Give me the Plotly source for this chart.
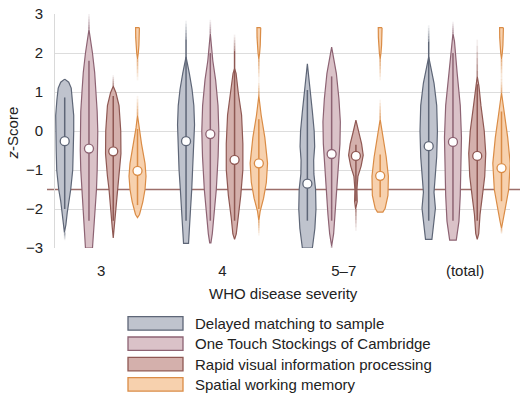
import plotly.graph_objects as go

# ---------------- data ----------------
categories = ["3", "4", "5–7", "(total)"]
series_names = [
    "Delayed matching to sample",
    "One Touch Stockings of Cambridge",
    "Rapid visual information processing",
    "Spatial working memory",
]

# violin profiles: z-score levels and estimated density half-widths, per category
dms_y = [
    [1.33, 1.25, 1.1, 0.8, 0.4, 0.0, -0.5, -1.0, -1.5, -1.8, -2.1, -2.4, -2.6],
    [1.9, 1.72, 1.48, 1.07, 0.65, 0.16, -0.33, -0.99, -1.5, -2.0, -2.47, -2.88],
    [1.72, 1.4, 1.0, 0.5, 0.0, -0.4, -0.75, -1.1, -1.5, -2.0, -2.5, -3.0],
    [1.9, 1.64, 1.23, 0.65, 0.0, -0.66, -1.32, -1.57, -1.98, -2.47, -2.78],
]
dms_w = [
    [0, 4, 6.5, 7.8, 9, 9, 8.5, 8, 6, 4, 2.5, 1.2, 0.3],
    [0, 1.5, 3.3, 6, 7.8, 8.5, 7.8, 7, 5.7, 4.5, 3.3, 2.5],
    [0, 1.5, 3, 5, 6.8, 7.3, 6.3, 6.5, 8.2, 8.6, 7.5, 5],
    [0, 2, 5.3, 8, 8.7, 8, 6, 5.3, 6.7, 4.7, 3.2],
]
ots_y = [
    [2.6, 2.3, 2.0, 1.5, 1.0, 0.5, 0.0, -0.5, -1.0, -1.5, -2.0, -2.5, -3.0],
    [2.5, 2.3, 1.8, 1.31, 0.65, 0.0, -0.66, -1.5, -2.14, -2.63, -2.87],
    [2.15, 1.48, 0.82, 0.24, -0.33, -0.99, -1.5, -2.14, -2.63, -2.95],
    [2.5, 2.3, 1.48, 0.65, -0.17, -0.99, -1.65, -2.31, -2.8],
]
ots_w = [
    [0, 1.8, 3.5, 5.7, 7, 8.2, 8.8, 8.7, 8.2, 7.5, 6.2, 4.8, 3.5],
    [0, 0.8, 2.5, 5.3, 7.7, 8.5, 7.8, 6, 4, 2, 0.6],
    [0, 4.7, 7.3, 8.7, 8.3, 6.7, 5.3, 3.7, 2, 0],
    [0, 1.5, 4.2, 7.3, 8.5, 8, 7.3, 6, 3.3],
]
rvip_y = [
    [1.15, 0.98, 0.65, 0.0, -0.58, -1.16, -1.5, -2.0, -2.47, -2.74],
    [1.6, 1.48, 0.98, 0.41, -0.33, -0.99, -1.65, -2.23, -2.64, -2.78],
    [0.28, 0.0, -0.33, -0.62, -0.9, -1.16, -1.5, -1.81, -2.0],
    [1.4, 1.15, 0.65, 0.0, -0.58, -1.16, -1.65, -2.14, -2.63, -2.78],
]
rvip_w = [
    [0, 2.7, 5.8, 7.5, 7.7, 5.8, 4.2, 2.3, 1, 0],
    [0, 1.5, 3.7, 7, 8.3, 8.3, 6.2, 3.3, 1.7, 0],
    [0, 2.5, 5.7, 7.3, 5.2, 2, 1, 1.3, 0.3],
    [0, 1.7, 3.7, 7, 8.5, 7.5, 5.2, 2.8, 1.5, 0],
]
swm_y = [
    [0.4, 0.08, -0.33, -0.83, -1.16, -1.5, -1.82, -2.14, -2.22],
    [0.9, 0.41, -0.17, -0.83, -1.32, -1.73, -2.06, -2.3],
    [0.3, 0.08, -0.17, -0.66, -1.16, -1.65, -1.98, -2.08],
    [0.98, 0.41, -0.17, -0.83, -1.5, -1.98, -2.31, -2.5],
]
swm_w = [
    [0, 1.5, 4, 7.5, 8.5, 7.5, 5.3, 2, 0],
    [0, 2.3, 6, 8.7, 7.5, 4.7, 1.3, 0],
    [0, 1.5, 2.7, 6, 8.2, 7.8, 5, 2.7],
    [0, 3, 6.2, 8.7, 7.2, 3.8, 1.5, 0],
]
# separate upper cluster of spatial working memory (ceiling scores)
swm_top_y = [2.65, 2.4, 2.2, 2.0, 1.85]
swm_top_w = [1.9, 1.8, 1.4, 0.8, 0]

dms_median = [-0.26, -0.26, -1.35, -0.39]
ots_median = [-0.45, -0.08, -0.59, -0.28]
rvip_median = [-0.52, -0.74, -0.64, -0.64]
swm_median = [-1.02, -0.83, -1.15, -0.95]

dms_inner = [(0.86, -2.0), (2.35, -2.3), (1.05, -2.3), (2.3, -2.3)]
ots_inner = [(1.8, -2.3), (2.0, -2.3), (1.4, -2.3), (2.0, -2.3)]
rvip_inner = [(0.9, -2.3), (2.05, -2.3), (-0.35, -1.8), (1.2, -2.3)]
swm_inner = [(0.05, -1.9), (0.3, -2.0), (-0.6, -1.7), (0.5, -1.8)]

# faded tails (solid end, faded end)
dms_tails = [[(-2.6, -2.8)], [(2.35, 2.83)], [], [(2.3, 2.71)]]
ots_tails = [[(2.6, 3.0)], [(2.5, 2.85)], [(-2.95, -3.05)], [(2.5, 2.8)]]
rvip_tails = [[(1.15, 1.43)], [(2.05, 2.47)], [(-2.0, -2.56)], [(1.4, 2.34)]]
swm_tails = [[(1.85, 1.3), (0.4, 0.9)], [(1.85, 1.3), (0.9, 1.3), (-2.3, -2.68)],
             [(1.85, 1.3), (0.3, 0.8)], [(1.85, 1.3), (0.98, 1.4), (-2.5, -2.64)]]

threshold = -1.5

fill_colors = ["#bfc3cd", "#dac2c8", "#d4b0ac", "#f7d1ae"]
edge_colors = ["#5e6677", "#8d6373", "#8f5853", "#da8c46"]

all_y = [dms_y, ots_y, rvip_y, swm_y]
all_w = [dms_w, ots_w, rvip_w, swm_w]
all_med = [dms_median, ots_median, rvip_median, swm_median]
all_inner = [dms_inner, ots_inner, rvip_inner, swm_inner]
all_tails = [dms_tails, ots_tails, rvip_tails, swm_tails]

# ---------------- layout geometry ----------------
W, H = 520, 398
L, R, T, B = 55, 10, 5, 150
X_RANGE = [-0.38, 3.37]
PX_PER_UNIT = (W - L - R) / (X_RANGE[1] - X_RANGE[0])
OFFSET = 0.2
FONT = "Liberation Sans, Arial, sans-serif"
TXT = "#222222"


def px_x(px):
    return (px - L) / (W - L - R)


def px_y(py):
    return (H - B - py) / (H - T - B)


def center(gi, si):
    return gi + (si - 1.5) * OFFSET


fig = go.Figure()

for si in range(4):
    for gi in range(4):
        c = center(gi, si)
        ys, ws = all_y[si][gi], all_w[si][gi]
        xs = [c + w / PX_PER_UNIT for w in ws] + [c - w / PX_PER_UNIT for w in ws[::-1]]
        yy = ys + ys[::-1]
        # faded tails
        for (a, b) in all_tails[si][gi]:
            n = 6
            for k in range(n):
                y0 = a + (b - a) * k / n
                y1 = a + (b - a) * (k + 1) / n
                fig.add_trace(go.Scatter(x=[c, c], y=[y0, y1], mode="lines",
                                         line=dict(color=edge_colors[si], width=1.6),
                                         opacity=0.7 * (1 - (k + 0.5) / n) + 0.03,
                                         hoverinfo="skip", showlegend=False))
        fig.add_trace(go.Scatter(x=xs + [xs[0]], y=yy + [yy[0]], mode="lines", fill="toself",
                                 fillcolor=fill_colors[si],
                                 line=dict(color=edge_colors[si], width=1.2),
                                 hoverinfo="skip", showlegend=False))
        if si == 3:
            xs2 = [c + w / PX_PER_UNIT for w in swm_top_w] + [c - w / PX_PER_UNIT for w in swm_top_w[::-1]]
            yy2 = swm_top_y + swm_top_y[::-1]
            fig.add_trace(go.Scatter(x=xs2 + [xs2[0]], y=yy2 + [yy2[0]], mode="lines", fill="toself",
                                     fillcolor=fill_colors[si],
                                     line=dict(color=edge_colors[si], width=1.2),
                                     hoverinfo="skip", showlegend=False))
        hi, lo = all_inner[si][gi]
        fig.add_trace(go.Scatter(x=[c, c], y=[hi, lo], mode="lines",
                                 line=dict(color=edge_colors[si], width=1.5),
                                 hoverinfo="skip", showlegend=False))
    fig.add_trace(go.Scatter(x=[center(g, si) for g in range(4)], y=all_med[si], mode="markers",
                             marker=dict(color="white", size=9,
                                         line=dict(color=edge_colors[si], width=1.3)),
                             name=series_names[si], showlegend=False))

shapes = [
    dict(type="line", xref="paper", yref="y", x0=px_x(47), x1=px_x(520), y0=threshold, y1=threshold,
         line=dict(color="#9c6e6a", width=1.5), layer="below"),
]
annotations = [
    dict(text="<i>z</i>-Score", xref="paper", yref="paper", x=px_x(12), y=px_y(129),
         textangle=-90, showarrow=False, xanchor="center", yanchor="middle",
         font=dict(size=15, color=TXT, family=FONT)),
    dict(text="WHO disease severity", xref="paper", yref="paper", x=px_x(283), y=px_y(295),
         showarrow=False, xanchor="center", yanchor="middle",
         font=dict(size=15, color=TXT, family=FONT)),
]
for i, name in enumerate(series_names):
    cy = 326.3 + i * 21.1
    shapes.append(dict(type="rect", xref="paper", yref="paper",
                       x0=px_x(128), x1=px_x(183), y0=px_y(cy - 7), y1=px_y(cy + 7),
                       fillcolor=fill_colors[i], line=dict(color=edge_colors[i], width=1.3)))
    annotations.append(dict(text=name, xref="paper", yref="paper", x=px_x(193), y=px_y(cy),
                            showarrow=False, xanchor="left", yanchor="middle",
                            font=dict(size=15, color=TXT, family=FONT)))

fig.update_layout(
    width=W, height=H,
    margin=dict(l=L, r=R, t=T, b=B),
    paper_bgcolor="white", plot_bgcolor="rgba(0,0,0,0)",
    font=dict(family=FONT, size=14, color=TXT),
    shapes=shapes, annotations=annotations,
    xaxis=dict(range=X_RANGE, tickvals=[0, 1, 2, 3], ticktext=categories,
               showgrid=False, zeroline=False, showline=False, ticks="",
               ticklabelstandoff=12, tickfont=dict(size=15, color=TXT)),
    yaxis=dict(range=[-3, 3], tickvals=[-3, -2, -1, 0, 1, 2, 3],
               ticktext=["−3", "−2", "−1", "0", "1", "2", "3"],
               showgrid=True, gridcolor="#dddddd", gridwidth=1, zeroline=False,
               showline=True, linecolor="#d9d9d9", linewidth=1, ticks="",
               ticklabeloverflow="allow",
               ticklabelstandoff=8, tickfont=dict(size=15, color=TXT)),
)

fig.write_html("out.html", config={"displayModeBar": False},
               post_script="document.body.style.margin='0';")
